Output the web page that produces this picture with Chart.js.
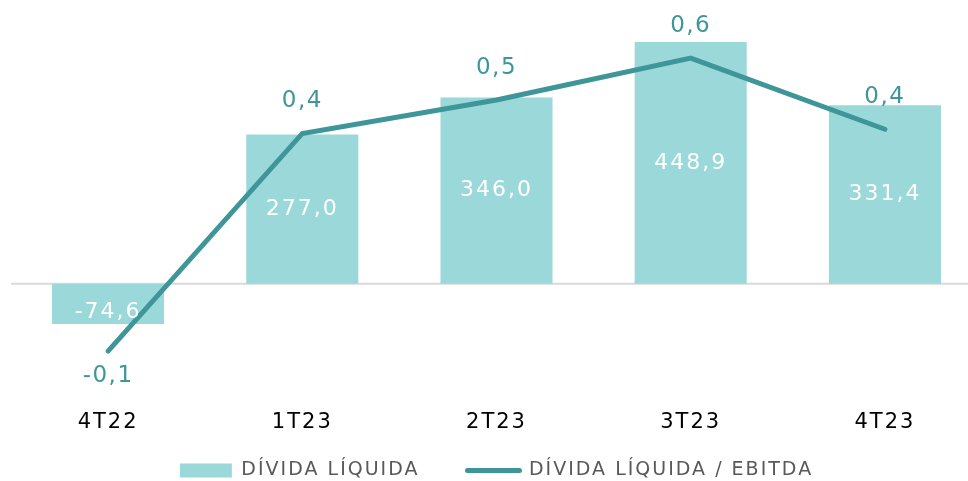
<!DOCTYPE html>
<html>
<head>
<meta charset="utf-8">
<script src="https://cdn.jsdelivr.net/npm/chart.js@4"></script>
<style>
  html, body { margin: 0; padding: 0; overflow: hidden; background: #fff; }
</style>
</head>
<body>
<canvas id="grafico" width="982" height="490"></canvas>
<script>
const trimestres = ["4T22", "1T23", "2T23", "3T23", "4T23"];
const dividaLiquida = [-74.6, 277.0, 346.0, 448.9, 331.4];
const dividaEbitda = [-0.1, 0.42, 0.5, 0.6, 0.43];
const nomesSeries = ["DÍVIDA LÍQUIDA", "DÍVIDA LÍQUIDA / EBITDA"];

const corBarra = "#9bd8da";
const corLinha = "#3e9699";
const fonte = '"DejaVu Sans", sans-serif';

function formata(v) {
    return v.toFixed(1).replace(".", ",");
}

// espaçamento entre letras (texto original é bem largo)
const espacamento = {
    id: "espacamento",
    beforeUpdate(chart) {
        chart.ctx.letterSpacing = "2px";
    },
};

// linha do zero
const linhaZero = {
    id: "linhaZero",
    beforeDatasetsDraw(chart) {
        const ctx = chart.ctx;
        const area = chart.chartArea;
        const y = chart.scales.y.getPixelForValue(0);
        ctx.save();
        ctx.strokeStyle = "#d9d9d9";
        ctx.lineWidth = 2;
        ctx.beginPath();
        ctx.moveTo(area.left, y);
        ctx.lineTo(area.right, y);
        ctx.stroke();
        ctx.restore();
    },
};

// rótulos de dados
const rotulos = {
    id: "rotulos",
    afterDatasetsDraw(chart) {
        const ctx = chart.ctx;
        ctx.save();
        ctx.textAlign = "center";
        ctx.textBaseline = "middle";

        ctx.font = "22px " + fonte;
        ctx.letterSpacing = "2px";
        ctx.fillStyle = "#ffffff";
        chart.getDatasetMeta(0).data.forEach((el, i) => {
            const v = dividaLiquida[i];
            let y = (el.y + el.base) / 2;
            if (v < 0) y += 8;
            ctx.fillText(formata(v), el.x, y);
        });

        ctx.font = "23px " + fonte;
        ctx.letterSpacing = "1.5px";
        ctx.fillStyle = corLinha;
        chart.getDatasetMeta(1).data.forEach((el, i) => {
            const v = dividaEbitda[i];
            const y = v < 0 ? el.y + 25 : el.y - 32;
            ctx.fillText(formata(v), el.x, y);
        });
        ctx.restore();
    },
};

new Chart(document.getElementById("grafico"), {
    data: {
        labels: trimestres,
        datasets: [
            {
                type: "bar",
                label: nomesSeries[0],
                data: dividaLiquida,
                backgroundColor: corBarra,
                yAxisID: "y",
                barPercentage: 0.577,
                categoryPercentage: 1,
                order: 2,
            },
            {
                type: "line",
                label: nomesSeries[1],
                data: dividaEbitda,
                borderColor: corLinha,
                borderWidth: 5,
                borderCapStyle: "round",
                borderJoinStyle: "miter",
                pointRadius: 0,
                tension: 0,
                yAxisID: "y2",
                order: 1,
            },
        ],
    },
    options: {
        responsive: false,
        animation: false,
        layout: { padding: { top: 10, left: 11, right: 0, bottom: 0 } },
        scales: {
            x: {
                grid: { display: false, drawTicks: false },
                border: { display: false },
                ticks: {
                    // mirror evita o recorte dos rótulos, que ficam sobre a área da legenda
                    mirror: true,
                    padding: -41,
                    color: "#000000",
                    font: { family: fonte, size: 21 },
                },
                afterFit: (scale) => {
                    scale.height = 19;
                },
            },
            y: {
                display: false,
                min: -204.6,
                max: 508.2,
            },
            y2: {
                display: false,
                min: -0.2026,
                max: 0.715,
            },
        },
        plugins: {
            tooltip: { enabled: false },
            legend: {
                position: "bottom",
                labels: {
                    usePointStyle: true,
                    pointStyleWidth: 52,
                    boxHeight: 14,
                    padding: 48,
                    color: "#595959",
                    font: { family: fonte, size: 19 },
                    generateLabels: (chart) =>
                        chart.data.datasets.map((ds, i) => ({
                            text: ds.label,
                            fillStyle: ds.type === "line" ? corLinha : corBarra,
                            strokeStyle: ds.type === "line" ? corLinha : corBarra,
                            lineWidth: ds.type === "line" ? 5 : 0,
                            lineCap: "round",
                            pointStyle: ds.type === "line" ? "line" : "rect",
                            fontColor: "#595959",
                            hidden: false,
                            datasetIndex: i,
                        })),
                },
            },
        },
    },
    plugins: [espacamento, linhaZero, rotulos],
});
</script>
</body>
</html>
